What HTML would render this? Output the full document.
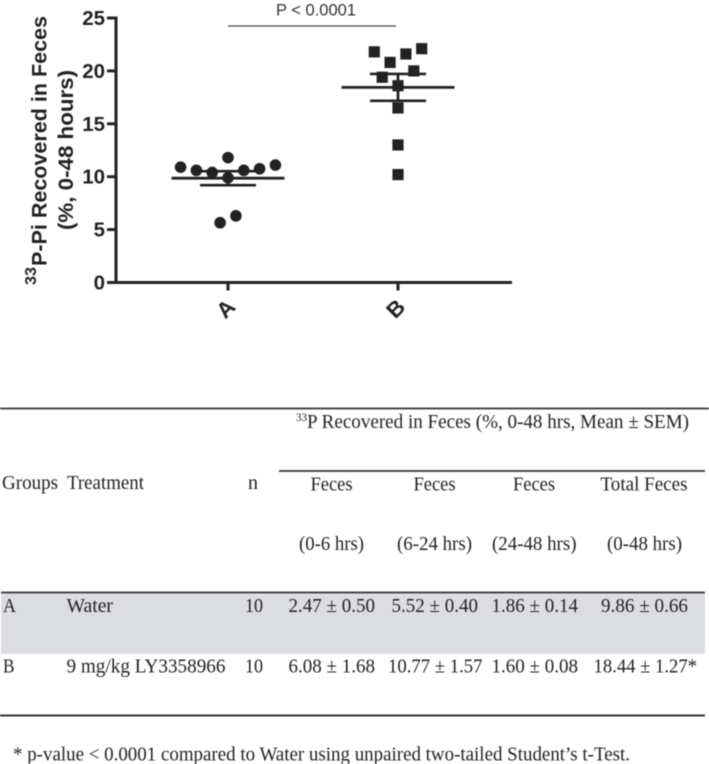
<!DOCTYPE html>
<html>
<head>
<meta charset="utf-8">
<title>33P recovered in feces</title>
<style>
html,body{margin:0;padding:0;background:#fff;width:709px;height:764px;overflow:hidden}
svg{display:block;filter:blur(0.4px)}
.t{font-family:"Liberation Serif",serif;font-size:19.5px;fill:#222}
.s{font-family:"Liberation Sans",sans-serif;font-weight:bold;fill:#222}
</style>
</head>
<body>
<svg id="fig" xmlns="http://www.w3.org/2000/svg" width="709" height="764" viewBox="0 0 709 764">
  <g id="chart"></g>

  <text class="s" font-size="16" transform="translate(36,285) rotate(-90)" textLength="18" lengthAdjust="spacingAndGlyphs">33</text>
  <text class="s" font-size="21" transform="translate(46.500,266) rotate(-90)" textLength="250" lengthAdjust="spacingAndGlyphs">P-Pi Recovered in Feces</text>
  <text class="s" font-size="21" transform="translate(73,230) rotate(-90)" textLength="160" lengthAdjust="spacingAndGlyphs">(%, 0-48 hours)</text>

  <text x="276" y="15.500" font-family="Liberation Sans, sans-serif" font-size="17" fill="#333" textLength="80" lengthAdjust="spacingAndGlyphs">P &lt; 0.0001</text>
  <line x1="228" x2="396" y1="26" y2="26" stroke="#444" stroke-width="1.2"/>

  <g>
    <rect x="1" y="593" width="704" height="61" fill="#dcdde0"/>
    <line x1="0" x2="709" y1="408.5" y2="408.5" stroke="#333" stroke-width="1.8"/>
    <line x1="279" x2="705" y1="471" y2="471" stroke="#333" stroke-width="1.8"/>
    <line x1="1" x2="705" y1="592.5" y2="592.5" stroke="#333" stroke-width="1.8"/>
    <line x1="0" x2="705" y1="715.5" y2="715.5" stroke="#333" stroke-width="2"/>

    <text class="t" x="296" y="421" font-size="11" style="font-size:12px" textLength="11" lengthAdjust="spacingAndGlyphs">33</text>
    <text class="t" x="307" y="428" textLength="382" lengthAdjust="spacingAndGlyphs">P Recovered in Feces (%, 0-48 hrs, Mean ± SEM)</text>

    <text class="t" x="2" y="489" textLength="56" lengthAdjust="spacingAndGlyphs">Groups</text>
    <text class="t" x="67" y="489" textLength="77" lengthAdjust="spacingAndGlyphs">Treatment</text>
    <text class="t" x="248" y="489" textLength="10" lengthAdjust="spacingAndGlyphs">n</text>

    <text class="t" x="310.500" y="490.5" textLength="42" lengthAdjust="spacingAndGlyphs">Feces</text>
    <text class="t" x="413.500" y="490.5" textLength="42" lengthAdjust="spacingAndGlyphs">Feces</text>
    <text class="t" x="513" y="490.5" textLength="42" lengthAdjust="spacingAndGlyphs">Feces</text>
    <text class="t" x="600.500" y="490.5" textLength="87" lengthAdjust="spacingAndGlyphs">Total Feces</text>

    <text class="t" x="299" y="550" textLength="65" lengthAdjust="spacingAndGlyphs">(0-6 hrs)</text>
    <text class="t" x="397" y="550" textLength="75" lengthAdjust="spacingAndGlyphs">(6-24 hrs)</text>
    <text class="t" x="492" y="550" textLength="84.500" lengthAdjust="spacingAndGlyphs">(24-48 hrs)</text>
    <text class="t" x="607" y="550" textLength="75" lengthAdjust="spacingAndGlyphs">(0-48 hrs)</text>

    <text class="t" x="3" y="612" textLength="13" lengthAdjust="spacingAndGlyphs">A</text>
    <text class="t" x="66.500" y="612" textLength="46.500" lengthAdjust="spacingAndGlyphs">Water</text>
    <text class="t" x="245" y="612" textLength="18" lengthAdjust="spacingAndGlyphs">10</text>
    <text class="t" x="288.500" y="612" textLength="86.500" lengthAdjust="spacingAndGlyphs">2.47 ± 0.50</text>
    <text class="t" x="391.500" y="612" textLength="86.500" lengthAdjust="spacingAndGlyphs">5.52 ± 0.40</text>
    <text class="t" x="491.500" y="612" textLength="86.500" lengthAdjust="spacingAndGlyphs">1.86 ± 0.14</text>
    <text class="t" x="601" y="612" textLength="87" lengthAdjust="spacingAndGlyphs">9.86 ± 0.66</text>

    <text class="t" x="3" y="672.500" textLength="11.500" lengthAdjust="spacingAndGlyphs">B</text>
    <text class="t" x="66.500" y="672.500" textLength="159" lengthAdjust="spacingAndGlyphs">9 mg/kg LY3358966</text>
    <text class="t" x="245" y="672.500" textLength="18" lengthAdjust="spacingAndGlyphs">10</text>
    <text class="t" x="288.500" y="672.500" textLength="86.500" lengthAdjust="spacingAndGlyphs">6.08 ± 1.68</text>
    <text class="t" x="388" y="672.500" textLength="94.500" lengthAdjust="spacingAndGlyphs">10.77 ± 1.57</text>
    <text class="t" x="491.500" y="672.500" textLength="86.500" lengthAdjust="spacingAndGlyphs">1.60 ± 0.08</text>
    <text class="t" x="593.500" y="672.500" textLength="103.500" lengthAdjust="spacingAndGlyphs">18.44 ± 1.27*</text>

    <text class="t" x="13" y="760.500" textLength="617" lengthAdjust="spacingAndGlyphs">* p-value &lt; 0.0001 compared to Water using unpaired two-tailed Student’s t-Test.</text>
  </g>
</svg>
<script>
// Chart data
const categories = ['A', 'B'];
const yTicks = [0, 5, 10, 15, 20, 25];
const valuesA = [10.9, 10.6, 10.4, 11.8, 9.9, 10.6, 10.75, 11.1, 5.65, 6.3];
const valuesB = [21.8, 20.8, 21.6, 22.1, 20.0, 19.4, 18.6, 16.5, 13.0, 10.2];
const swarmSlotsA = [-3, -2, -1, 0, 0, 1, 2, 3, -0.5, 0.5];
const swarmSlotsB = [-1.5, -0.5, 0.5, 1.5, 1, -1, 0, 0, 0, 0];
const means = [9.86, 18.44];
const sems = [0.66, 1.27];

const NS = 'http://www.w3.org/2000/svg';
const chart = document.getElementById('chart');
const INK = '#222';
const plot = {left: 116, right: 512, top: 18, bottom: 282.5, yMax: 25, slot: 15.8};

function yScale(v) {
  return plot.bottom - (v / plot.yMax) * (plot.bottom - plot.top);
}
function xScale(i) {
  return 228 + i * 170;
}
function make(tag, attrs) {
  const el = document.createElementNS(NS, tag);
  for (const k in attrs) el.setAttribute(k, attrs[k]);
  chart.appendChild(el);
  return el;
}

const yAxis = make('line', {x1: plot.left, x2: plot.left, y1: plot.top - 1.5, y2: plot.bottom + 1.5, stroke: INK, 'stroke-width': 3});


const xAxis = make('line', {x1: plot.left, x2: plot.right, y1: plot.bottom, y2: plot.bottom, stroke: INK, 'stroke-width': 3});



yTicks.forEach(function (t) {
  const y = yScale(t);
  const tick = make('line', {x1: plot.left - 9, x2: plot.left, y1: y, y2: y, stroke: INK, 'stroke-width': 3});
  
  
  const label = make('text', {x: 105, y: y + 7, 'text-anchor': 'end', class: 's', 'font-size': 20.5});
  
  
  label.textContent = t;
});

categories.forEach(function (c, i) {
  const x = xScale(i);
  const tick = make('line', {x1: x, x2: x, y1: plot.bottom, y2: plot.bottom + 8, stroke: INK, 'stroke-width': 3});
  
  
  const label = make('text', {class: 's', 'font-size': 22, 'text-anchor': 'middle', transform: 'translate(' + (x + 3) + ',314) rotate(-45)'});
  
  
  label.textContent = c;
});

valuesA.forEach(function (v, i) {
  const dot = make('circle', {cx: xScale(0) + swarmSlotsA[i] * plot.slot, cy: yScale(v), r: 5.8, fill: INK});
  
  
});
valuesB.forEach(function (v, i) {
  const cx = xScale(1) + swarmSlotsB[i] * plot.slot;
  const sq = make('rect', {x: cx - 5.6, y: yScale(v) - 5.6, width: 11.2, height: 11.2, fill: INK});
  
  
});

means.forEach(function (m, i) {
  const x = xScale(i);
  const hi = yScale(m + sems[i]);
  const lo = yScale(m - sems[i]);
  const mean = make('line', {x1: x - 56.5, x2: x + 56.5, y1: yScale(m), y2: yScale(m), stroke: INK, 'stroke-width': 2.8});
  
  
  const bar = make('line', {x1: x, x2: x, y1: hi, y2: lo, stroke: INK, 'stroke-width': 2.8});
  
  
  const capHi = make('line', {x1: x - 28, x2: x + 28, y1: hi, y2: hi, stroke: INK, 'stroke-width': 2.6});
  
  
  const capLo = make('line', {x1: x - 28, x2: x + 28, y1: lo, y2: lo, stroke: INK, 'stroke-width': 2.6});
  
  
});
</script>
</body>
</html>
